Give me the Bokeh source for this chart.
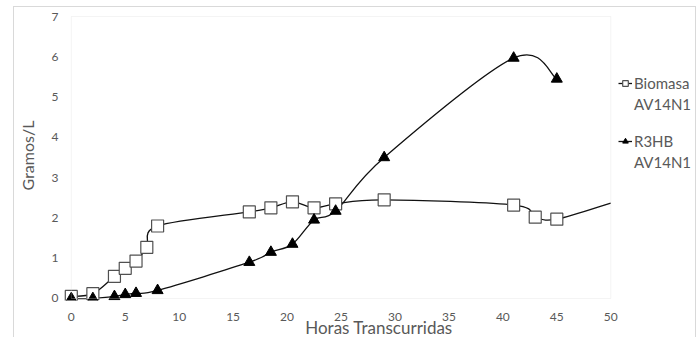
from bokeh.plotting import figure
from bokeh.models import Range1d, BoxAnnotation, Legend, LegendItem, FixedTicker
from bokeh.embed import file_html
from bokeh.resources import INLINE

# ---- data ----
hours_biomasa = [0, 2, 4, 5, 6, 7, 8, 16.5, 18.5, 20.5, 22.5, 24.5, 29, 41, 43, 45, 50]
biomasa = [0.05, 0.12, 0.55, 0.75, 0.93, 1.27, 1.80, 2.15, 2.25, 2.40, 2.25, 2.35, 2.45, 2.32, 2.02, 1.97, 2.37]
n_biomasa_markers = 16  # last value lies on the right edge (marker outside plot area)

hours_r3hb = [0, 2, 4, 5, 6, 8, 16.5, 18.5, 20.5, 22.5, 24.5, 29, 41, 45]
r3hb = [0.0, 0.0, 0.05, 0.10, 0.13, 0.20, 0.90, 1.15, 1.35, 1.95, 2.17, 3.50, 5.97, 5.45]

x_ticks = [0, 5, 10, 15, 20, 25, 30, 35, 40, 45, 50]
y_ticks = [0, 1, 2, 3, 4, 5, 6, 7]
legend_lines = [["Biomasa", "AV14N1"], ["R3HB", "AV14N1"]]

FONT = "Lato"
GREY = "#595959"


def smooth_segments(xs, ys):
    """Cubic Bezier control points (Catmull-Rom style smoothing as in spreadsheet charts)."""
    n = len(xs)
    x0, y0, x1, y1, cx0, cy0, cx1, cy1 = [], [], [], [], [], [], [], []
    for i in range(n - 1):
        xm, ym = (xs[i - 1], ys[i - 1]) if i > 0 else (xs[i], ys[i])
        xp, yp = (xs[i + 2], ys[i + 2]) if i + 2 < n else (xs[i + 1], ys[i + 1])
        x0.append(xs[i]); y0.append(ys[i])
        x1.append(xs[i + 1]); y1.append(ys[i + 1])
        cx0.append(xs[i] + (xs[i + 1] - xm) / 6.0)
        cy0.append(ys[i] + (ys[i + 1] - ym) / 6.0)
        cx1.append(xs[i + 1] - (xp - xs[i]) / 6.0)
        cy1.append(ys[i + 1] - (yp - ys[i]) / 6.0)
    return dict(x0=x0, y0=y0, x1=x1, y1=y1, cx0=cx0, cy0=cy0, cx1=cx1, cy1=cy1)


p = figure(width=683, height=336,
           x_range=Range1d(-1, 58.04), y_range=Range1d(-0.05, 7.15),
           output_backend="svg", toolbar_location=None,
           min_border_left=46, min_border_right=0,
           min_border_top=3, min_border_bottom=43)
p.styles = {"margin-left": "13px", "margin-top": "6px", "margin-bottom": "-14px",
            "border": "1px solid #d9d9d9"}

p.outline_line_color = None
p.xgrid.visible = False
p.ygrid.visible = False
p.background_fill_color = "white"
p.border_fill_color = "white"

# plot-area border
p.add_layout(BoxAnnotation(left=x_ticks[0], right=x_ticks[-1], bottom=y_ticks[0], top=y_ticks[-1],
                           fill_alpha=0, line_color="#d9d9d9", line_width=1))

# series lines (smoothed)
sb = smooth_segments(hours_biomasa, biomasa)
p.bezier(**sb, line_color="#111111", line_width=1.3)
sr = smooth_segments(hours_r3hb, r3hb)
p.bezier(**sr, line_color="#111111", line_width=1.3)

r_sq = p.scatter(hours_biomasa[:n_biomasa_markers], biomasa[:n_biomasa_markers], marker="square",
                 size=12, fill_color="white", line_color="#505050", line_width=1.2)
r_tr = p.scatter(hours_r3hb, r3hb, marker="triangle", size=11,
                 fill_color="black", line_color="black")

# legend glyph helpers (line through marker)
lg_line1 = p.line([None], [None], line_color="#111111", line_width=1.3)
lg_line2 = p.line([None], [None], line_color="#111111", line_width=1.3)

legend_renderers = [[lg_line1, r_sq], [lg_line2, r_tr]]
legend_bottoms = [186, 128]
for lines, rends, bottom in zip(legend_lines, legend_renderers, legend_bottoms):
    lg = Legend(items=[LegendItem(label=lines[0], renderers=rends),
                       LegendItem(label=lines[1], renderers=[])],
                location=(558, bottom), orientation="vertical",
                background_fill_alpha=0, border_line_color=None,
                glyph_width=14, glyph_height=14, label_standoff=2,
                label_height=20, spacing=1, padding=0, margin=0,
                label_text_font=FONT, label_text_font_size="15px",
                label_text_color=GREY)
    p.add_layout(lg, "center")

for ax in (p.xaxis[0], p.yaxis[0]):
    ax.axis_line_color = None
    ax.major_tick_line_color = None
    ax.minor_tick_line_color = None
    ax.major_tick_out = 0
    ax.major_tick_in = 0
    ax.minor_tick_out = 0
    ax.minor_tick_in = 0
    ax.major_label_text_font = FONT
    ax.major_label_text_font_size = "12px"
    ax.major_label_text_color = GREY
    ax.axis_label_text_font = FONT
    ax.axis_label_text_font_style = "normal"
    ax.axis_label_text_color = GREY

p.xaxis[0].ticker = FixedTicker(ticks=x_ticks)
p.yaxis[0].ticker = FixedTicker(ticks=y_ticks)
p.xaxis[0].axis_label = "Horas Transcurridas"
p.yaxis[0].axis_label = "Gramos/L"
p.xaxis[0].axis_label_text_font_size = "17px"
p.xaxis[0].axis_label_text_line_height = 1.0
p.yaxis[0].axis_label_text_font_size = "16px"
p.xaxis[0].major_label_standoff = 12
p.xaxis[0].axis_label_standoff = -7
p.yaxis[0].major_label_standoff = 2
p.yaxis[0].axis_label_standoff = 12

open("out.html", "w").write(file_html(p, INLINE))
